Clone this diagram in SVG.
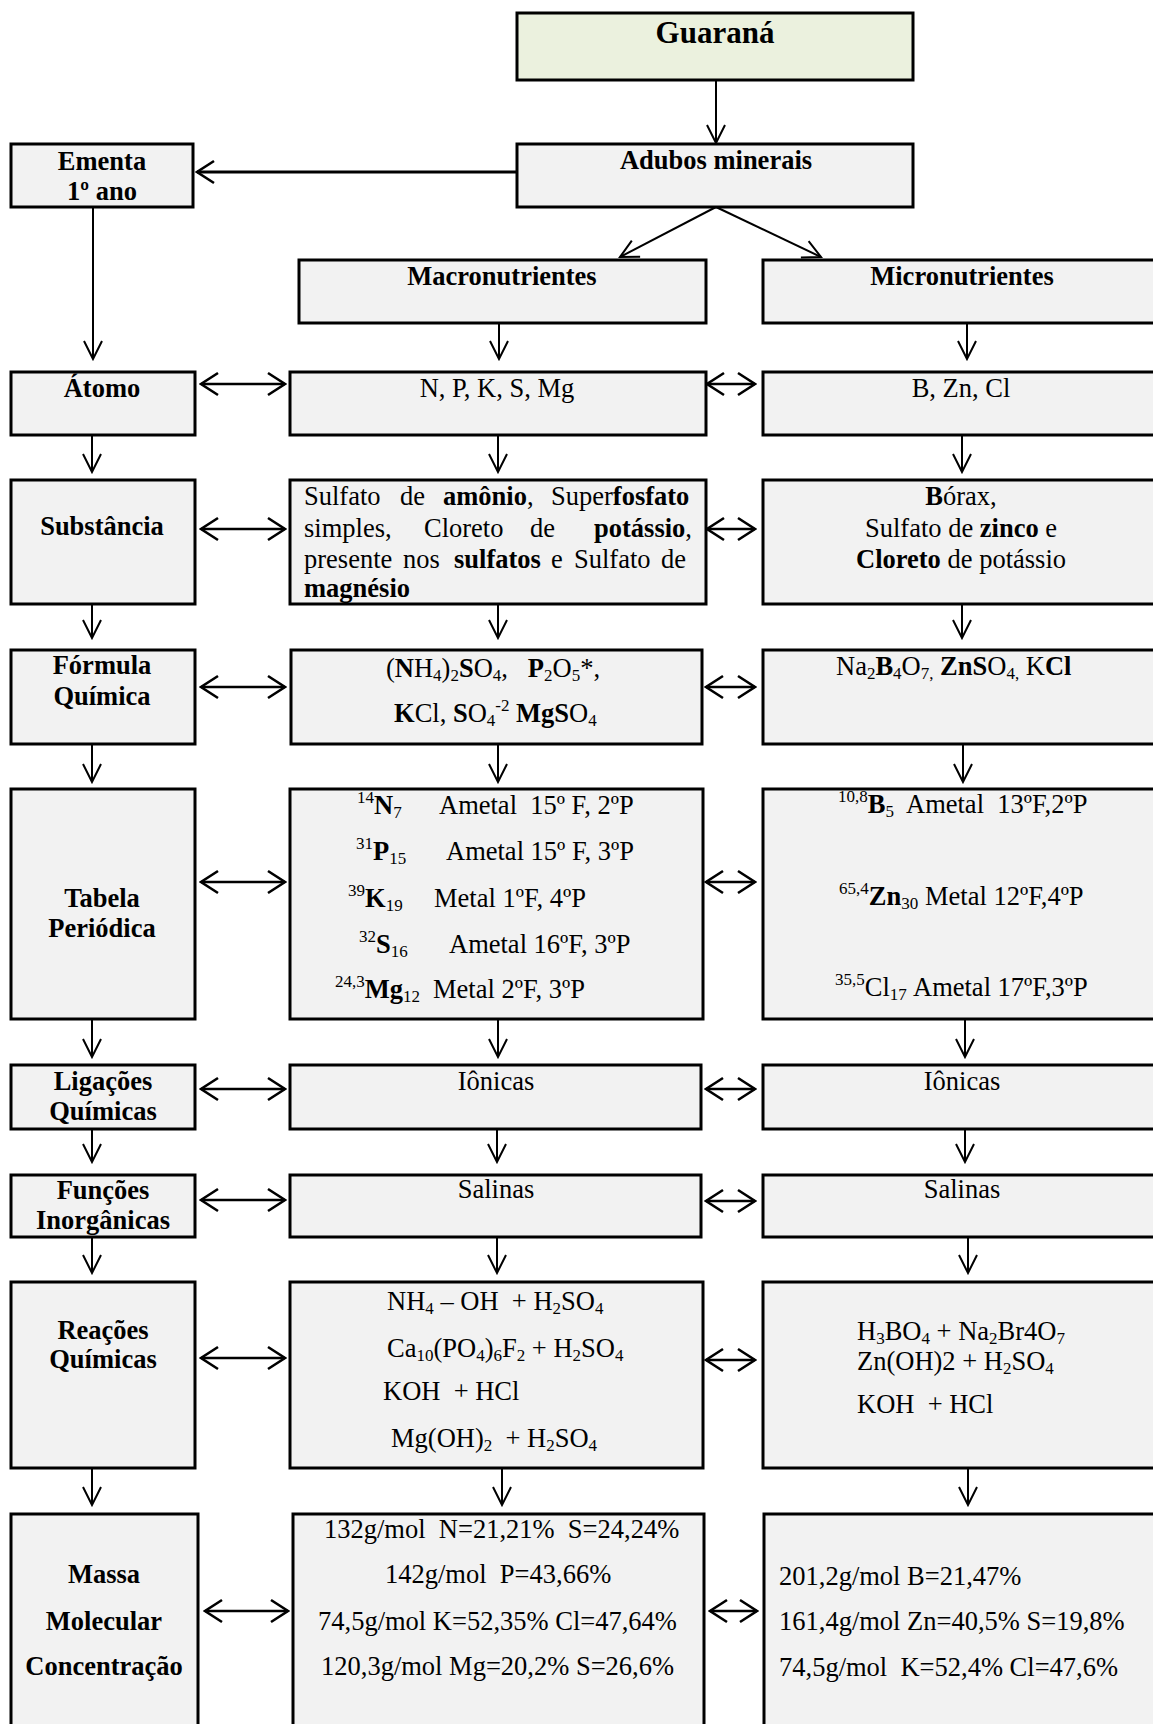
<svg xmlns="http://www.w3.org/2000/svg" width="1153" height="1724" viewBox="0 0 1153 1724">
<style>
.box{fill:#f2f2f2;stroke:#000;stroke-width:3}
.green{fill:#ebf1de}
.r{font-family:"Liberation Serif","Times New Roman",serif;font-size:26.5px;fill:#000}
.b{font-family:"Liberation Serif","Times New Roman",serif;font-size:26.5px;font-weight:bold;fill:#000}
.t{font-family:"Liberation Serif","Times New Roman",serif;font-size:31px;font-weight:bold;fill:#000}
.c{text-anchor:middle}
.bd{font-weight:bold}
.s{font-size:17px}
.ln{stroke:#000;stroke-width:2;fill:none}
.dl{stroke:#000;stroke-width:2.6;fill:none}
</style>
<defs>
<marker id="ah" viewBox="-20 -12 22 24" refX="0" refY="0" markerWidth="22" markerHeight="24" markerUnits="userSpaceOnUse" orient="auto-start-reverse">
<path d="M-18,-9 L0,0 L-18,9" fill="none" stroke="#000" stroke-width="2"/>
</marker>
<marker id="ah2" viewBox="-20 -13 22 26" refX="0" refY="0" markerWidth="22" markerHeight="26" markerUnits="userSpaceOnUse" orient="auto-start-reverse">
<path d="M-17,-11 L0,0 L-17,11" fill="none" stroke="#000" stroke-width="2.6"/>
</marker>
</defs>
<rect width="1153" height="1724" fill="#fff"/>

<g id="connectors">
<line class="ln" x1="716" y1="81" x2="716" y2="143" marker-end="url(#ah)"/>
<line class="ln" x1="517" y1="172" x2="197" y2="172" style="stroke-width:3" marker-end="url(#ah2)"/>
<line class="ln" x1="716" y1="207" x2="620" y2="257" marker-end="url(#ah)"/>
<line class="ln" x1="716" y1="207" x2="821" y2="257" marker-end="url(#ah)"/>
<line class="ln" x1="93" y1="207" x2="93" y2="359" marker-end="url(#ah)"/>
<line class="ln" x1="499" y1="323" x2="499" y2="359" marker-end="url(#ah)"/>
<line class="ln" x1="967" y1="323" x2="967" y2="359" marker-end="url(#ah)"/>
<line class="dl" x1="201" y1="384" x2="285" y2="384" marker-start="url(#ah2)" marker-end="url(#ah2)"/>
<line class="dl" x1="707" y1="384" x2="755" y2="384" marker-start="url(#ah2)" marker-end="url(#ah2)"/>
<line class="ln" x1="92" y1="435" x2="92" y2="472" marker-end="url(#ah)"/>
<line class="ln" x1="498" y1="435" x2="498" y2="472" marker-end="url(#ah)"/>
<line class="ln" x1="962" y1="435" x2="962" y2="472" marker-end="url(#ah)"/>
<line class="dl" x1="201" y1="529" x2="285" y2="529" marker-start="url(#ah2)" marker-end="url(#ah2)"/>
<line class="dl" x1="707" y1="529" x2="755" y2="529" marker-start="url(#ah2)" marker-end="url(#ah2)"/>
<line class="ln" x1="92" y1="604" x2="92" y2="638" marker-end="url(#ah)"/>
<line class="ln" x1="498" y1="604" x2="498" y2="638" marker-end="url(#ah)"/>
<line class="ln" x1="962" y1="604" x2="962" y2="638" marker-end="url(#ah)"/>
<line class="dl" x1="201" y1="687" x2="285" y2="687" marker-start="url(#ah2)" marker-end="url(#ah2)"/>
<line class="dl" x1="706" y1="687" x2="755" y2="687" marker-start="url(#ah2)" marker-end="url(#ah2)"/>
<line class="ln" x1="92" y1="744" x2="92" y2="782" marker-end="url(#ah)"/>
<line class="ln" x1="498" y1="744" x2="498" y2="782" marker-end="url(#ah)"/>
<line class="ln" x1="963" y1="744" x2="963" y2="782" marker-end="url(#ah)"/>
<line class="dl" x1="201" y1="882" x2="285" y2="882" marker-start="url(#ah2)" marker-end="url(#ah2)"/>
<line class="dl" x1="706" y1="882" x2="755" y2="882" marker-start="url(#ah2)" marker-end="url(#ah2)"/>
<line class="ln" x1="92" y1="1019" x2="92" y2="1057" marker-end="url(#ah)"/>
<line class="ln" x1="498" y1="1019" x2="498" y2="1057" marker-end="url(#ah)"/>
<line class="ln" x1="965" y1="1019" x2="965" y2="1057" marker-end="url(#ah)"/>
<line class="dl" x1="201" y1="1089" x2="285" y2="1089" marker-start="url(#ah2)" marker-end="url(#ah2)"/>
<line class="dl" x1="706" y1="1089" x2="755" y2="1089" marker-start="url(#ah2)" marker-end="url(#ah2)"/>
<line class="ln" x1="92" y1="1129" x2="92" y2="1162" marker-end="url(#ah)"/>
<line class="ln" x1="497" y1="1129" x2="497" y2="1162" marker-end="url(#ah)"/>
<line class="ln" x1="965" y1="1129" x2="965" y2="1162" marker-end="url(#ah)"/>
<line class="dl" x1="201" y1="1200" x2="285" y2="1200" marker-start="url(#ah2)" marker-end="url(#ah2)"/>
<line class="dl" x1="706" y1="1201" x2="755" y2="1201" marker-start="url(#ah2)" marker-end="url(#ah2)"/>
<line class="ln" x1="92" y1="1237" x2="92" y2="1273" marker-end="url(#ah)"/>
<line class="ln" x1="497" y1="1237" x2="497" y2="1273" marker-end="url(#ah)"/>
<line class="ln" x1="968" y1="1237" x2="968" y2="1273" marker-end="url(#ah)"/>
<line class="dl" x1="201" y1="1358" x2="285" y2="1358" marker-start="url(#ah2)" marker-end="url(#ah2)"/>
<line class="dl" x1="706" y1="1360" x2="755" y2="1360" marker-start="url(#ah2)" marker-end="url(#ah2)"/>
<line class="ln" x1="92" y1="1468" x2="92" y2="1505" marker-end="url(#ah)"/>
<line class="ln" x1="502" y1="1468" x2="502" y2="1505" marker-end="url(#ah)"/>
<line class="ln" x1="968" y1="1468" x2="968" y2="1505" marker-end="url(#ah)"/>
<line class="dl" x1="205" y1="1611" x2="288" y2="1611" marker-start="url(#ah2)" marker-end="url(#ah2)"/>
<line class="dl" x1="710" y1="1611" x2="757" y2="1611" marker-start="url(#ah2)" marker-end="url(#ah2)"/>
</g>

<g id="guarana"><rect class="box green" x="517" y="13" width="396" height="67"/><text class="t c" x="715" y="43">Guaraná</text></g>
<g id="adubos"><rect class="box" x="517" y="144" width="396" height="63"/><text class="b c" x="716" y="169">Adubos minerais</text></g>
<g id="ementa"><rect class="box" x="11" y="144" width="182" height="63"/><text class="b c" x="102" y="170">Ementa</text><text class="b c" x="102" y="200">1º ano</text></g>
<g id="macronutrientes"><rect class="box" x="299" y="260" width="407" height="63"/><text class="b c" x="502" y="285">Macronutrientes</text></g>
<g id="micronutrientes"><rect class="box" x="763" y="260" width="410" height="63"/><text class="b c" x="962" y="285">Micronutrientes</text></g>

<g id="atomo"><rect class="box" x="11" y="372" width="184" height="63"/><text class="b c" x="102" y="397">Átomo</text></g>
<g id="atomo-macro"><rect class="box" x="290" y="372" width="416" height="63"/><text class="r c" x="497" y="397">N, P, K, S, Mg</text></g>
<g id="atomo-micro"><rect class="box" x="763" y="372" width="410" height="63"/><text class="r c" x="961" y="397">B, Zn, Cl</text></g>

<g id="substancia"><rect class="box" x="11" y="480" width="184" height="124"/><text class="b c" x="102" y="535">Substância</text></g>
<g id="substancia-macro"><rect class="box" x="290" y="480" width="416" height="124"/>
<text class="r" y="505"><tspan x="304">Sulfato</tspan><tspan x="400">de</tspan><tspan x="443" class="bd">amônio</tspan>,<tspan x="551">Super</tspan><tspan class="bd">fosfato</tspan></text>
<text class="r" y="537"><tspan x="304">simples,</tspan><tspan x="424">Cloreto</tspan><tspan x="530">de</tspan><tspan x="594" class="bd">potássio</tspan>,</text>
<text class="r" y="568"><tspan x="304">presente</tspan><tspan x="403">nos</tspan><tspan x="454" class="bd">sulfatos</tspan><tspan x="551">e</tspan><tspan x="574">Sulfato</tspan><tspan x="661">de</tspan></text>
<text class="b" x="304" y="597">magnésio</text>
</g>
<g id="substancia-micro"><rect class="box" x="763" y="480" width="410" height="124"/>
<text class="r c" x="961" y="505"><tspan class="bd">B</tspan>órax,</text>
<text class="r c" x="961" y="537">Sulfato de <tspan class="bd">zinco</tspan> e</text>
<text class="r c" x="961" y="568"><tspan class="bd">Cloreto</tspan> de potássio</text>
</g>

<g id="formula"><rect class="box" x="11" y="650" width="184" height="94"/><text class="b c" x="102" y="674">Fórmula</text><text class="b c" x="102" y="705">Química</text></g>
<g id="formula-macro"><rect class="box" x="291" y="650" width="411" height="94"/>
<text class="r" x="386" y="677" xml:space="preserve">(<tspan class="bd">N</tspan>H<tspan class="s" dy="4">4</tspan><tspan dy="-4">)</tspan><tspan class="s" dy="4">2</tspan><tspan class="bd" dy="-4">S</tspan>O<tspan class="s" dy="4">4</tspan><tspan dy="-4">,   </tspan><tspan class="bd">P</tspan><tspan class="s" dy="4">2</tspan><tspan dy="-4">O</tspan><tspan class="s" dy="4">5</tspan><tspan dy="-4">*,</tspan></text>
<text class="r" x="394" y="722" xml:space="preserve"><tspan class="bd">K</tspan>Cl, <tspan class="bd">S</tspan>O<tspan class="s" dy="4">4</tspan><tspan class="s" dy="-15">-2</tspan><tspan dy="11"> </tspan><tspan class="bd">MgS</tspan>O<tspan class="s" dy="4">4</tspan></text>
</g>
<g id="formula-micro"><rect class="box" x="763" y="650" width="410" height="94"/>
<text class="r" x="836" y="675" xml:space="preserve">Na<tspan class="s" dy="4">2</tspan><tspan class="bd" dy="-4">B</tspan><tspan class="s" dy="4">4</tspan><tspan dy="-4">O</tspan><tspan class="s" dy="4">7,</tspan><tspan dy="-4"> </tspan><tspan class="bd">ZnS</tspan>O<tspan class="s" dy="4">4,</tspan><tspan dy="-4"> K</tspan><tspan class="bd">Cl</tspan></text>
</g>

<g id="tabela"><rect class="box" x="11" y="789" width="184" height="230"/><text class="b c" x="102" y="907">Tabela</text><text class="b c" x="102" y="937">Periódica</text></g>
<g id="tabela-macro"><rect class="box" x="290" y="789" width="413" height="230"/>
<text class="r" x="357" y="814" xml:space="preserve"><tspan class="s" dy="-11">14</tspan><tspan class="bd" dy="11">N</tspan><tspan class="s" dy="4">7</tspan><tspan x="439" dy="-4">Ametal  15º F, 2ºP</tspan></text>
<text class="r" x="356" y="860" xml:space="preserve"><tspan class="s" dy="-11">31</tspan><tspan class="bd" dy="11">P</tspan><tspan class="s" dy="4">15</tspan><tspan x="446" dy="-4">Ametal 15º F, 3ºP</tspan></text>
<text class="r" x="348" y="907" xml:space="preserve"><tspan class="s" dy="-11">39</tspan><tspan class="bd" dy="11">K</tspan><tspan class="s" dy="4">19</tspan><tspan x="434" dy="-4">Metal 1ºF, 4ºP</tspan></text>
<text class="r" x="359" y="953" xml:space="preserve"><tspan class="s" dy="-11">32</tspan><tspan class="bd" dy="11">S</tspan><tspan class="s" dy="4">16</tspan><tspan x="449" dy="-4">Ametal 16ºF, 3ºP</tspan></text>
<text class="r" x="335" y="998" xml:space="preserve"><tspan class="s" dy="-11">24,3</tspan><tspan class="bd" dy="11">Mg</tspan><tspan class="s" dy="4">12</tspan><tspan x="433" dy="-4">Metal 2ºF, 3ºP</tspan></text>
</g>
<g id="tabela-micro"><rect class="box" x="763" y="789" width="410" height="230"/>
<text class="r" x="838" y="813" xml:space="preserve"><tspan class="s" dy="-11">10,8</tspan><tspan class="bd" dy="11">B</tspan><tspan class="s" dy="4">5</tspan><tspan x="906" dy="-4">Ametal  13ºF,2ºP</tspan></text>
<text class="r" x="839" y="905" xml:space="preserve"><tspan class="s" dy="-11">65,4</tspan><tspan class="bd" dy="11">Zn</tspan><tspan class="s" dy="4">30</tspan><tspan x="925" dy="-4">Metal 12ºF,4ºP</tspan></text>
<text class="r" x="835" y="996" xml:space="preserve"><tspan class="s" dy="-11">35,5</tspan><tspan dy="11">Cl</tspan><tspan class="s" dy="4">17</tspan><tspan x="913" dy="-4">Ametal 17ºF,3ºP</tspan></text>
</g>

<g id="ligacoes"><rect class="box" x="11" y="1065" width="184" height="64"/><text class="b c" x="103" y="1090">Ligações</text><text class="b c" x="103" y="1120">Químicas</text></g>
<g id="ligacoes-macro"><rect class="box" x="290" y="1065" width="411" height="64"/><text class="r c" x="496" y="1090">Iônicas</text></g>
<g id="ligacoes-micro"><rect class="box" x="763" y="1065" width="410" height="64"/><text class="r c" x="962" y="1090">Iônicas</text></g>

<g id="funcoes"><rect class="box" x="11" y="1175" width="184" height="62"/><text class="b c" x="103" y="1199">Funções</text><text class="b c" x="103" y="1229">Inorgânicas</text></g>
<g id="funcoes-macro"><rect class="box" x="290" y="1175" width="411" height="62"/><text class="r c" x="496" y="1198">Salinas</text></g>
<g id="funcoes-micro"><rect class="box" x="763" y="1175" width="410" height="62"/><text class="r c" x="962" y="1198">Salinas</text></g>

<g id="reacoes"><rect class="box" x="11" y="1282" width="184" height="186"/><text class="b c" x="103" y="1339">Reações</text><text class="b c" x="103" y="1368">Químicas</text></g>
<g id="reacoes-macro"><rect class="box" x="290" y="1282" width="413" height="186"/>
<text class="r" x="387" y="1310" xml:space="preserve">NH<tspan class="s" dy="4">4</tspan><tspan dy="-4"> – OH  + H</tspan><tspan class="s" dy="4">2</tspan><tspan dy="-4">SO</tspan><tspan class="s" dy="4">4</tspan></text>
<text class="r" x="387" y="1357" xml:space="preserve">Ca<tspan class="s" dy="4">10</tspan><tspan dy="-4">(PO</tspan><tspan class="s" dy="4">4</tspan><tspan dy="-4">)</tspan><tspan class="s" dy="4">6</tspan><tspan dy="-4">F</tspan><tspan class="s" dy="4">2</tspan><tspan dy="-4"> + H</tspan><tspan class="s" dy="4">2</tspan><tspan dy="-4">SO</tspan><tspan class="s" dy="4">4</tspan></text>
<text class="r" x="383" y="1400" xml:space="preserve">KOH  + HCl</text>
<text class="r" x="391" y="1447" xml:space="preserve">Mg(OH)<tspan class="s" dy="4">2</tspan><tspan dy="-4">  + H</tspan><tspan class="s" dy="4">2</tspan><tspan dy="-4">SO</tspan><tspan class="s" dy="4">4</tspan></text>
</g>
<g id="reacoes-micro"><rect class="box" x="763" y="1282" width="410" height="186"/>
<text class="r" x="857" y="1340" xml:space="preserve">H<tspan class="s" dy="4">3</tspan><tspan dy="-4">BO</tspan><tspan class="s" dy="4">4</tspan><tspan dy="-4"> + Na</tspan><tspan class="s" dy="4">2</tspan><tspan dy="-4">Br4O</tspan><tspan class="s" dy="4">7</tspan></text>
<text class="r" x="857" y="1370" xml:space="preserve">Zn(OH)2 + H<tspan class="s" dy="4">2</tspan><tspan dy="-4">SO</tspan><tspan class="s" dy="4">4</tspan></text>
<text class="r" x="857" y="1413" xml:space="preserve">KOH  + HCl</text>
</g>

<g id="massa"><rect class="box" x="11" y="1514" width="187" height="230"/><text class="b c" x="104" y="1583">Massa</text><text class="b c" x="104" y="1630">Molecular</text><text class="b c" x="104" y="1675">Concentração</text></g>
<g id="massa-macro"><rect class="box" x="293" y="1514" width="411" height="230"/>
<text class="r" x="324" y="1538" xml:space="preserve">132g/mol  N=21,21%  S=24,24%</text>
<text class="r" x="385" y="1583" xml:space="preserve">142g/mol  P=43,66%</text>
<text class="r" x="318" y="1630" xml:space="preserve">74,5g/mol K=52,35% Cl=47,64%</text>
<text class="r" x="321" y="1675" xml:space="preserve">120,3g/mol Mg=20,2% S=26,6%</text>
</g>
<g id="massa-micro"><rect class="box" x="764" y="1514" width="410" height="230"/>
<text class="r" x="779" y="1585" xml:space="preserve">201,2g/mol B=21,47%</text>
<text class="r" x="779" y="1630" xml:space="preserve">161,4g/mol Zn=40,5% S=19,8%</text>
<text class="r" x="779" y="1676" xml:space="preserve">74,5g/mol  K=52,4% Cl=47,6%</text>
</g>
</svg>
